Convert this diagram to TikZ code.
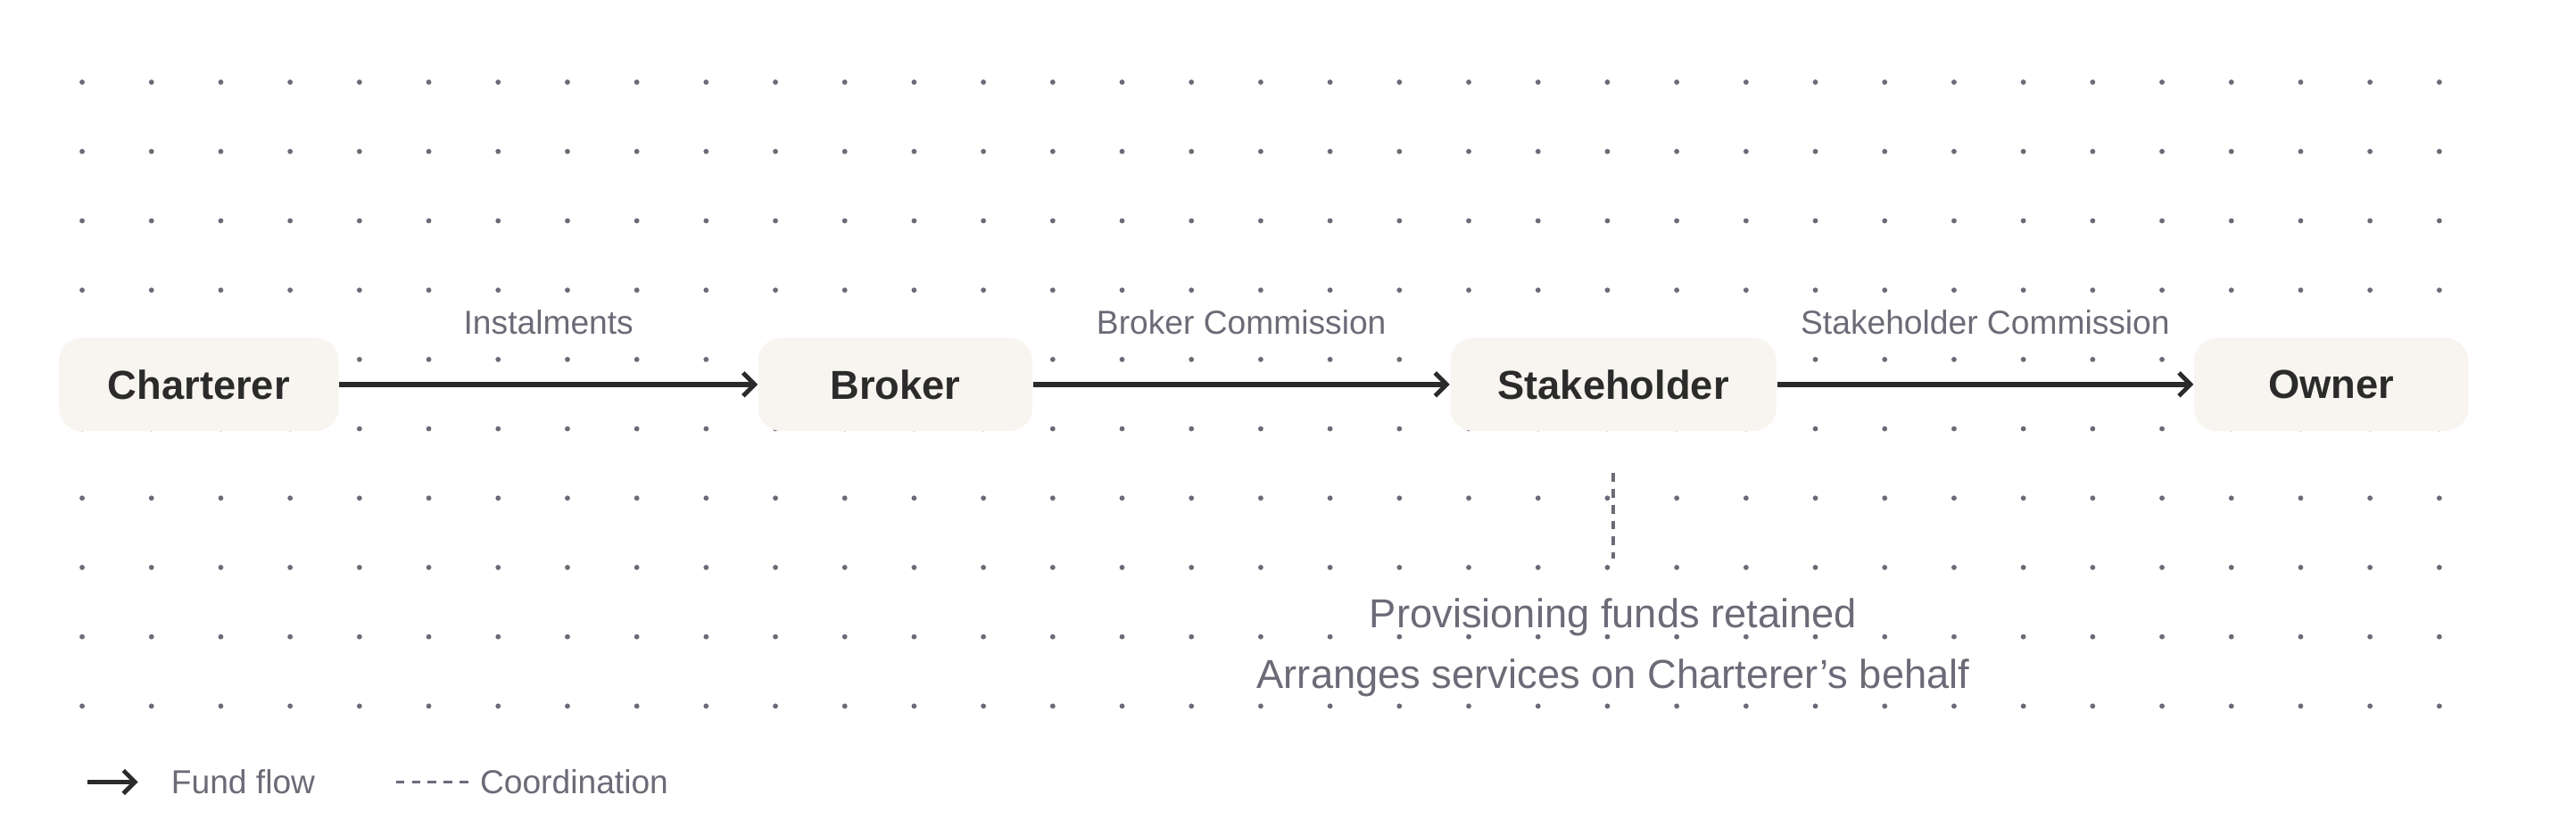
\documentclass[tikz,border=0pt]{standalone}
\usepackage{fontspec}
\setmainfont{Liberation Sans}
\usetikzlibrary{arrows.meta}
\definecolor{boxfill}{HTML}{F8F5F0}
\definecolor{ink}{HTML}{2B2B2B}
\definecolor{muted}{HTML}{6B6B78}
\tikzset{
  party/.style={fill=boxfill,rounded corners=8pt,minimum height=32.3pt,font=\fontsize{14}{16}\selectfont\bfseries,text=ink},
  flow/.style={draw=ink,line width=1.7pt,-{Straight Barb[length=4pt,width=8pt,line width=1.5pt]}},
  flowlabel/.style={font=\fontsize{11.5}{13}\selectfont,text=muted,above=13pt},
  coord/.style={draw=muted,line width=1pt,dash pattern=on 3pt off 2.5pt}
}
\begin{document}
\begin{tikzpicture}[x=0.02cm,y=-0.02cm]
  \useasboundingbox (0,0) rectangle (1568,504);
  % dot grid
  \foreach \i in {0,...,34}
    \foreach \j in {0,...,9}
      \fill[muted] (50+42.2*\i,50+42.2*\j) circle (0.9pt);
  % parties
  \node[party,minimum width=97pt] (charterer) at (121,234) {Charterer};
  \node[party,minimum width=95pt] (broker) at (545,234) {Broker};
  \node[party,minimum width=113pt] (stakeholder) at (982,234) {Stakeholder};
  \node[party,minimum width=95pt] (owner) at (1419,234) {Owner};
  % fund flows
  \path[flow] (charterer) -- node[flowlabel] {Instalments} (broker);
  \path[flow] (broker) -- node[flowlabel] {Broker Commission} (stakeholder);
  \path[flow] (stakeholder) -- node[flowlabel] {Stakeholder Commission} (owner);
  % coordination note
  \coordinate (notetop) at (982,288);
  \coordinate (notebot) at (982,340);
  \node[font=\fontsize{14}{21}\selectfont,text=muted,align=center,anchor=north] (note) at (982,358)
    {Provisioning funds retained\\Arranges services on Charterer’s behalf};
  \path[coord] (notetop) -- (notebot);
  % legend
  \coordinate (legA) at (53,476);
  \coordinate (legA2) at (84,476);
  \node[font=\fontsize{11.5}{13}\selectfont,text=muted,anchor=west] (legflow) at (98,476) {Fund flow};
  \path[flow,line width=1.5pt] (legA) -- (legA2);
  \coordinate (legB) at (241,476);
  \node[font=\fontsize{11.5}{13}\selectfont,text=muted,anchor=west] (legcoord) at (286,476) {Coordination};
  \path[coord] (legB) -- (legcoord.west);
\end{tikzpicture}
\end{document}
